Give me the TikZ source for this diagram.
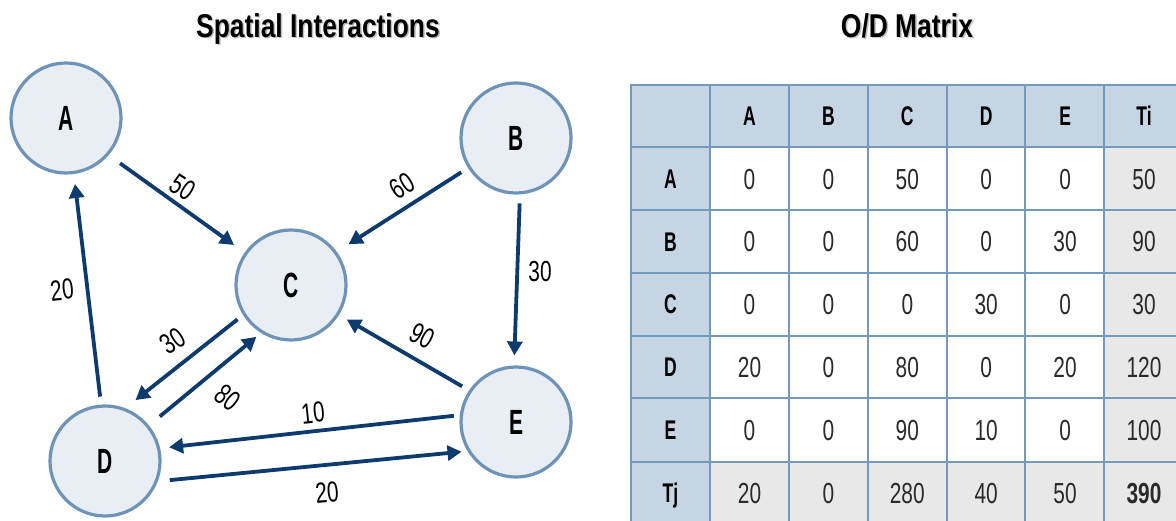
\documentclass[tikz,border=0pt]{standalone}
\usepackage{fontspec}
\setmainfont{Liberation Sans}
\newfontfamily\ttlfont[FakeStretch=0.80]{Liberation Sans}
\newfontfamily\letfont[FakeStretch=0.60]{Liberation Sans}
\newfontfamily\hdrfont[FakeStretch=0.65]{Liberation Sans}
\newfontfamily\numfont[FakeStretch=0.72]{Liberation Sans}
\usetikzlibrary{arrows.meta}
\definecolor{navy}{HTML}{0D3B6E}
\definecolor{cfill}{HTML}{E9EEF4}
\definecolor{cborder}{HTML}{6D93B8}
\definecolor{tborder}{HTML}{7399BC}
\definecolor{thead}{HTML}{C6D5E3}
\definecolor{tgrey}{HTML}{E8E8E8}
\definecolor{numcol}{HTML}{2A2A2A}
\begin{document}
\begin{tikzpicture}[x=1pt,y=-1pt,
  place/.style={circle, draw=cborder, fill=cfill, line width=3.2pt, minimum size=110pt, inner sep=0pt,
    font=\letfont\bfseries\fontsize{35}{35}\selectfont},
  flow/.style={draw=navy, line width=3.8pt, -{Triangle[length=14pt,width=15pt]}},
  wlabel/.style={font=\numfont\fontsize{29}{29}\selectfont, inner sep=0pt},
  ttl/.style={font=\ttlfont\bfseries\fontsize{33}{33}\selectfont, anchor=base, inner sep=0pt},
  hdr/.style={font=\hdrfont\bfseries\fontsize{27}{27}\selectfont, text height=19.5pt, text depth=0pt, inner sep=0pt},
  num/.style={font=\numfont\fontsize{29}{29}\selectfont, text=numcol, text height=21pt, text depth=0pt, inner sep=0pt},
  gridline/.style={draw=tborder, line width=2.8pt}]
\useasboundingbox (0,0) rectangle (1176,520);
\clip (0,0) rectangle (1176,520);

% titles
\node[ttl, text=gray!50] (t1s) at (319.5,38.5) {Spatial Interactions};
\node[ttl] (t1) at (318,37) {Spatial Interactions};
\node[ttl, text=gray!50] (t2s) at (908.5,38.5) {O/D Matrix};
\node[ttl] (t2) at (907,37) {O/D Matrix};

% places
\node[place] (A) at (66,118) {A};
\node[place] (B) at (516,138) {B};
\node[place] (C) at (291,285) {C};
\node[place] (D) at (105,461) {D};
\node[place] (E) at (516,422) {E};

% flows
\draw[flow, shorten <=14pt, shorten >=13pt] (A.-41) -- (C.145);
\draw[flow, shorten <=8pt, shorten >=14pt] (B.212) -- (C.36);
\draw[flow, shorten <=9pt, shorten >=10pt] (B.-86) -- (E.92);
\draw[flow, shorten <=8pt, shorten >=10pt] (D.94) -- (A.-82);
\draw[flow, shorten <=7pt, shorten >=13pt] (C.212) -- (D.69);
\draw[flow, shorten <=14pt, shorten >=6pt] (D.39) -- (C.238);
\draw[flow, shorten <=8pt, shorten >=9pt] (E.146) -- (C.-32);
\draw[flow, shorten <=6pt, shorten >=9pt] (E.173) -- (D.13);
\draw[flow, shorten <=12pt, shorten >=6pt] (D.-21) -- (E.211);

% flow labels
\node[wlabel, rotate=-33] (lAC) at (183,187) {50};
\node[wlabel, rotate=32] (lBC) at (402,186) {60};
\node[wlabel] (lBE) at (540,272) {30};
\node[wlabel, rotate=6] (lDA) at (62,290) {20};
\node[wlabel, rotate=34] (lCD) at (173,341) {30};
\node[wlabel, rotate=-38] (lDC) at (228,398) {80};
\node[wlabel, rotate=-28] (lEC) at (422,336) {90};
\node[wlabel, rotate=6] (lED) at (313,413) {10};
\node[wlabel, rotate=5] (lDE) at (327,493) {20};

% matrix fills
\fill[white] (710,147) rectangle (1104,462);
\fill[thead] (631,85) rectangle (1180,147);
\fill[thead] (631,147) rectangle (710,524);
\fill[tgrey] (1104,147) rectangle (1180,524);
\fill[tgrey] (710,462) rectangle (1104,524);
% grid
\foreach \x in {631,710,789,868,947,1025,1104} \draw[gridline] (\x,83.6) -- (\x,524);
\foreach \y in {85,147,210,273,336,398,462} \draw[gridline] (629.6,\y) -- (1180,\y);

% headers
\foreach \t [count=\i] in {A,B,C,D,E,Ti}
  \node[hdr] (h\i) at ({749.5+78.9*(\i-1)},116) {\t};
\foreach \t [count=\i] in {A,B,C,D,E,Tj}
  \node[hdr] (r\i) at (670.5,{178.5+62.8*(\i-1)}) {\t};
% data
\foreach \row [count=\r] in {{0,0,50,0,0,50},{0,0,60,0,30,90},{0,0,0,30,0,30},{20,0,80,0,20,120},{0,0,90,10,0,100},{20,0,280,40,50,\textbf{390}}}
  \foreach \v [count=\c] in \row
    \node[num] (d\r-\c) at ({749.5+78.9*(\c-1)},{178.5+62.8*(\r-1)}) {\v};
\end{tikzpicture}
\end{document}
